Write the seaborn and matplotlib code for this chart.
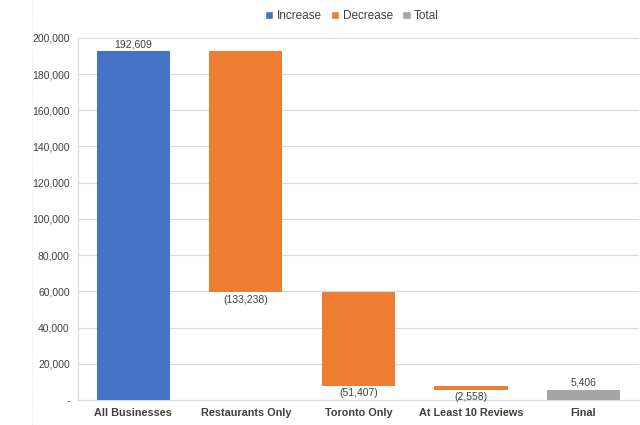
import pandas as pd
import numpy as np
import seaborn as sns
import matplotlib.pyplot as plt
from matplotlib.patches import Patch
from matplotlib.lines import Line2D
from matplotlib.ticker import FuncFormatter, MultipleLocator

# 数据
steps = ['All Businesses', 'Restaurants Only', 'Toronto Only', 'At Least 10 Reviews', 'Final']
changes = [192609, -133238, -51407, -2558, 5406]
kinds = ['Increase', 'Decrease', 'Decrease', 'Decrease', 'Total']

colors = {'Increase': '#4472C4', 'Decrease': '#ED7D31', 'Total': '#A5A5A5'}

# 计算瀑布图起点
starts = []
running = 0
for c, k in zip(changes, kinds):
    if k == 'Total':
        starts.append(0)
    elif c >= 0:
        starts.append(running)
        running += c
    else:
        running += c
        starts.append(running)

df = pd.DataFrame({'step': steps, 'change': changes, 'kind': kinds,
                   'start': starts, 'height': np.abs(changes)})

sns.set_theme(style='white')
plt.rcParams['font.family'] = ['Liberation Sans', 'DejaVu Sans']

fig = plt.figure(figsize=(6.4, 4.25), dpi=100)
ax = fig.add_axes([0.122, 0.059, 0.876, 0.852])

for k in ['Increase', 'Decrease', 'Total']:
    sub = df[df['kind'] == k]
    sns.barplot(data=sub, x='step', y='height', order=steps, color=colors[k],
                saturation=1, width=0.65, bottom=sub['start'].values, ax=ax,
                linewidth=0, zorder=3)

# 数据标签
for i, (c, k, s) in enumerate(zip(changes, kinds, starts)):
    if c >= 0:
        ax.text(i, s + abs(c) + 1200, f'{c:,}', ha='center', va='bottom',
                fontsize=7.5, color='#404040')
    else:
        ax.text(i, s - 1200, f'({abs(c):,})', ha='center', va='top',
                fontsize=7.5, color='#404040')

# 坐标轴
ax.set_ylim(0, 200000)
ax.set_xlim(-0.49, 4.49)
ax.yaxis.set_major_locator(MultipleLocator(20000))
ax.yaxis.set_major_formatter(FuncFormatter(lambda v, _: '-' if v == 0 else f'{int(v):,}'))
ax.set_xlabel('')
ax.set_ylabel('')
ax.grid(axis='y', color='#D9D9D9', linewidth=0.8, zorder=0)
ax.set_axisbelow(True)
for side in ['top', 'right']:
    ax.spines[side].set_visible(False)
for side in ['left', 'bottom']:
    ax.spines[side].set_color('#D9D9D9')
    ax.spines[side].set_linewidth(0.8)
ax.tick_params(axis='y', labelsize=7.5, labelcolor='#404040', length=0, pad=6)
ax.tick_params(axis='x', labelsize=7.8, labelcolor='#404040', length=0, pad=6)
for t in ax.get_xticklabels():
    t.set_fontweight('bold')

# 图例
handles = [Patch(facecolor=colors[k], label=k) for k in ['Increase', 'Decrease', 'Total']]
fig.legend(handles=handles, loc='center', bbox_to_anchor=(0.55, 0.962), ncol=3,
           frameon=False, fontsize=8.5, handlelength=0.7, handleheight=0.7,
           handletextpad=0.3, columnspacing=0.8, labelcolor='#404040')

# 左侧虚线
fig.add_artist(Line2D([0.05, 0.05], [0.0, 1.0], color='#E6E6E6', linewidth=0.8,
                      linestyle=':'))

fig.savefig('out.png', dpi=100)
